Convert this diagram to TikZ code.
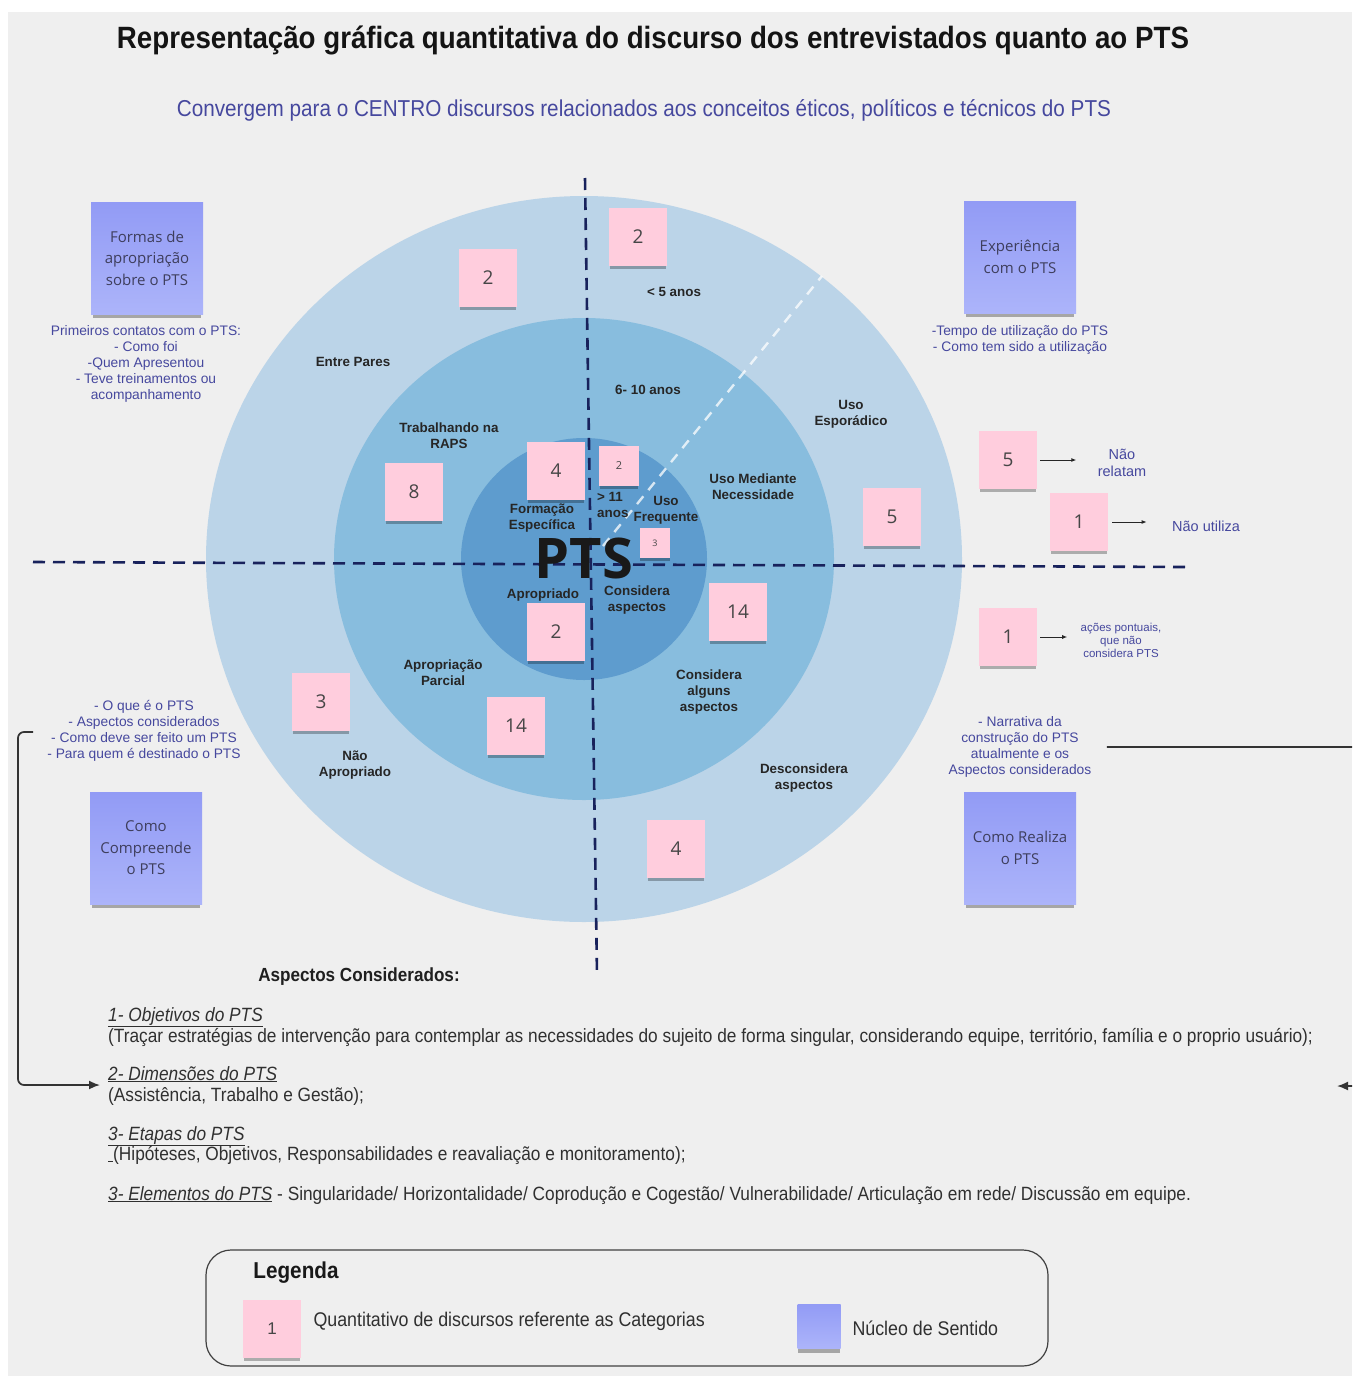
\documentclass[tikz,border=0pt]{standalone}
\usepackage{fontspec}
\setmainfont{Liberation Sans}
\newfontfamily\condfont{Liberation Sans}[FakeStretch=0.9]
\newfontfamily\notefont{Open Sans}
\usetikzlibrary{
    arrows.meta,
    positioning,
    shadows
}

\definecolor{pagebg}{RGB}{239,239,239}
\definecolor{ringA}{RGB}{187,212,232}
\definecolor{ringB}{RGB}{136,189,222}
\definecolor{ringC}{RGB}{94,156,206}
\definecolor{axiscol}{RGB}{24,34,92}
\definecolor{notepink}{RGB}{255,205,221}
\definecolor{notetxt}{RGB}{70,70,70}
\definecolor{nucleoTop}{RGB}{146,155,245}
\definecolor{nucleoBot}{RGB}{172,180,250}
\definecolor{nucleotxt}{RGB}{62,62,92}
\definecolor{bluetxt}{RGB}{70,72,158}
\definecolor{bodytxt}{RGB}{48,48,48}

\newcommand{\fs}[2]{\fontsize{#1}{#2}\selectfont}

\begin{document}
\begin{tikzpicture}[
    x=1pt, y=-1pt,
    pnote/.style={
        fill=notepink,
        minimum size=58,
        inner sep=0pt,
        text=notetxt,
        font=\notefont\fs{19}{22},
        general shadow={fill=black, opacity=.28, shadow yshift=-4pt, shadow scale=.97}
    },
    snote/.style={pnote, minimum size=40, font=\notefont\fs{11}{13}},
    tnote/.style={pnote, minimum size=30, font=\notefont\fs{9}{11}},
    nucleo/.style={
        top color=nucleoTop,
        bottom color=nucleoBot,
        minimum size=112,
        inner sep=2pt,
        align=center,
        text=nucleotxt,
        font=\notefont\fs{15}{21.5},
        general shadow={fill=black, opacity=.3, shadow yshift=-6pt, shadow scale=.97}
    },
    lbl/.style={font=\bfseries\fs{13.4}{16}, align=center, text=black!85},
    blue/.style={font=\fs{13.8}{16}, align=center, text=bluetxt},
    body/.style={font=\condfont\fs{19.2}{22}, text=bodytxt, anchor=base west, inner sep=0pt},
    ahead/.style={-{Latex[length=5pt,width=4pt]}, line width=0.9pt, black!85},
    bracket/.style={-{Latex[length=11pt,width=9pt]}, line width=1.7pt, black!80, rounded corners=6pt},
    axis/.style={dash pattern=on 12pt off 8pt, line width=2.6pt, axiscol},
    legbox/.style={draw=black!75, line width=1.2pt, rounded corners=25, minimum width=842, minimum height=116}
]
\useasboundingbox (0,0) rectangle (1352,1376);
\fill[white] (0,0) rectangle (1352,1376);
\fill[pagebg] (8,12) rectangle (1352,1376);

% titles
\node[font=\condfont\bfseries\fs{30.8}{34}, text=black!92] (title) at (653,40)
{Representação gráfica quantitativa do discurso dos entrevistados quanto ao PTS};
\node[font=\condfont\fs{23}{26}, text=bluetxt] (subtitle) at (644,110)
{Convergem para o CENTRO discursos relacionados aos conceitos éticos, políticos e técnicos do PTS};

% rings
\fill[ringA] (584,559) ellipse [x radius=378, y radius=363];
\fill[ringB] (584,559) ellipse [x radius=250, y radius=241];
\fill[ringC] (584,559) ellipse [x radius=123, y radius=121];

\coordinate (vTop) at (585,178);
\coordinate (vBot) at (597,975);
\coordinate (hLeft) at (33,562);
\coordinate (hRight) at (1185,567);
\coordinate (dIn) at (603,546);
\coordinate (dOut) at (822,276);

\draw[axis] (vTop) -- (vBot);
\draw[axis] (hLeft) -- (hRight);
\draw[white, opacity=.75, dash pattern=on 10pt off 8pt, line width=2.4pt] (dIn) -- (dOut);

% circle labels
\node[lbl] (entre) at (353,362) {Entre Pares};
\node[lbl] (menos5) at (674,292) {< 5 anos};
\node[lbl] (seisdez) at (648,390) {6- 10 anos};
\node[lbl] (esporadico) at (851,414) {Uso\\Esporádico};
\node[lbl] (raps) at (449,436) {Trabalhando na\\RAPS};
\node[lbl] (mediante) at (753,487) {Uso Mediante\\Necessidade};
\node[lbl, align=left, anchor=west, inner sep=0pt] (onze) at (597,505) {> 11\\anos};
\node[lbl] (frequente) at (666,510) {Uso\\Frequente};
\node[lbl] (formacao) at (542,518) {Formação\\Específica};
\node[font=\notefont\bfseries\fs{56}{56}, text=black!90, inner sep=0pt] (pts) at (584,558) {PTS};
\node[lbl] (apropriado) at (543,595) {Apropriado};
\node[lbl] (considera) at (637,600) {Considera\\aspectos};
\node[lbl] (parcial) at (443,673) {Apropriação\\Parcial};
\node[lbl] (alguns) at (709,692) {Considera\\alguns\\aspectos};
\node[lbl] (naoaprop) at (355,765) {Não\\Apropriado};
\node[lbl] (desconsidera) at (804,778) {Desconsidera\\aspectos};

% counts
\node[pnote] (nEntre) at (488,278) {2};
\node[pnote] (nAnos) at (638,237) {2};
\node[pnote] (nRaps) at (414,492) {8};
\node[pnote] (nForm) at (556,471) {4};
\node[snote] (nOnze) at (619,466) {2};
\node[tnote] (nFreq) at (655,543) {3};
\node[pnote] (nEsp) at (892,517) {5};
\node[pnote] (nRel) at (1008,460) {5};
\node[pnote] (nUtil) at (1079,522) {1};
\node[pnote] (nAlg) at (738,612) {14};
\node[pnote] (nApr) at (556,632) {2};
\node[pnote] (nPont) at (1008,637) {1};
\node[pnote] (nNao) at (321,702) {3};
\node[pnote] (nParc) at (516,726) {14};
\node[pnote] (nDesc) at (676,849) {4};

% nucleos de sentido
\node[nucleo] (formas) at (147,258) {Formas de\\apropriação\\sobre o PTS};
\node[nucleo] (experiencia) at (1020,257) {Experiência\\com o PTS};
\node[nucleo] (compreende) at (146,848) {Como\\Compreende\\o PTS};
\node[nucleo] (realiza) at (1020,848) {Como Realiza\\o PTS};

\node[blue] (primeiros) at (146,364)
{Primeiros contatos com o PTS:\\- Como foi\\-Quem Apresentou\\- Teve treinamentos ou\\acompanhamento};
\node[blue] (tempo) at (1020,340) {-Tempo de utilização do PTS\\- Como tem sido a utilização};
\node[blue, font=\fs{14.5}{17}] (relatam) at (1122,463) {Não\\relatam};
\node[blue, font=\fs{14.5}{17}] (naoutiliza) at (1206,526) {Não utiliza};
\node[blue, font=\fs{11.5}{13}] (pontuais) at (1121,640) {ações pontuais,\\que não\\considera PTS};
\node[blue] (narrativa) at (1020,747)
{- Narrativa da\\construção do PTS\\atualmente e os\\Aspectos considerados};
\node[blue] (oque) at (144,731)
{- O que é o PTS\\- Aspectos considerados\\- Como deve ser feito um PTS\\- Para quem é destinado o PTS};

\draw[ahead, shorten <=3pt, shorten >=18pt] (nRel.east) -- (relatam.west |- nRel.east);
\draw[ahead, shorten <=4pt, shorten >=22pt] (nUtil.east) -- (naoutiliza.west |- nUtil.east);
\draw[ahead, shorten <=3pt, shorten >=10pt] (nPont.east) -- (pontuais.west |- nPont.east);

% aspectos considerados
\node[font=\condfont\bfseries\fs{19}{22}, text=black!88] (aspectos) at (359,977) {Aspectos Considerados:};
\node[body] (obj) at (108,1021) {\underline{\itshape 1- Objetivos do PTS}};
\node[body] (objTxt) at (108,1042)
{(Traçar estratégias de intervenção para contemplar as necessidades do sujeito de forma singular, considerando equipe, território, família e o proprio usuário);};
\node[body] (dim) at (108,1080) {\underline{\itshape 2- Dimensões do PTS}};
\node[body] (dimTxt) at (108,1101) {(Assistência, Trabalho e Gestão);};
\node[body] (eta) at (108,1140) {\underline{\itshape 3- Etapas do PTS}};
\node[body] (etaTxt) at (108,1160) {\underline{\hspace{5pt}}(Hipóteses, Objetivos, Responsabilidades e reavaliação e monitoramento);};
\node[body] (ele) at (108,1200)
{\underline{\itshape 3- Elementos do PTS} - Singularidade/ Horizontalidade/ Coprodução e Cogestão/ Vulnerabilidade/ Articulação em rede/ Discussão em equipe.};

\coordinate (brkL) at (33,732);
\coordinate (brkEnd) at (100,1085);
\coordinate (brkR) at (1337,1086);
\draw[bracket] (brkL) -- ++(-15,0) |- (brkEnd);
\begin{scope}
\clip (0,0) rectangle (1352,1376);
\draw[bracket] ([xshift=12pt]narrativa.east) -- ++(280,0) |- (brkR);
\end{scope}

% legenda
\node[legbox] (legenda) at (627,1308) {};
\node[font=\condfont\bfseries\fs{23}{26}, text=black!90] (legTitle) at (296,1273) {Legenda};
\node[pnote, font=\fs{17}{20}] (legCount) at (272,1329) {1};
\node[font=\condfont\fs{19.8}{22}, text=bodytxt, anchor=west] (legCountTxt) at (310,1321)
{Quantitativo de discursos referente as Categorias};
\node[nucleo, minimum width=43, minimum height=44, inner sep=0pt] (legNucleo) at (819,1326) {};
\node[font=\condfont\fs{19.8}{22}, text=bodytxt, anchor=west] (legNucleoTxt) at (849,1328) {Núcleo de Sentido};

\end{tikzpicture}
\end{document}
